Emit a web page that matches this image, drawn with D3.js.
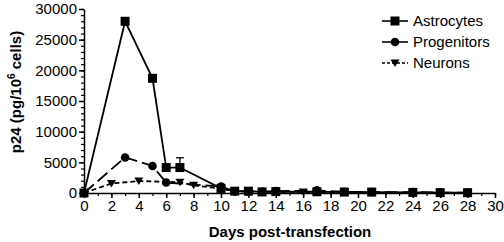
<!DOCTYPE html>
<html>
<head>
<meta charset="utf-8">
<script src="https://cdn.jsdelivr.net/npm/d3@7"></script>
<style>
  body { margin: 0; background: #fff; }
  text { font-family: "Liberation Sans", Arial, sans-serif; }
</style>
</head>
<body>
<div class="chart"></div>
<script>
// Days for each series
const astroDays = [0, 3, 5, 6, 7, 10, 11, 12, 13, 14, 17, 19, 21, 24, 26, 28];
const astroVals = [0, 28000, 18700, 4150, 4150, 750, 300, 300, 180, 230, 200, 150, 150, 100, 60, 50];
const astroErr = [{ day: 7, top: 5750 }];

const progDays = [0, 3, 5, 6, 10, 11, 12, 13, 14, 17, 19, 21, 24, 26, 28];
const progVals = [0, 5800, 4400, 1700, 1050, 280, 230, 180, 300, 420, 200, 150, 150, 60, 50];

const neurDays = [0, 2, 4, 7, 8, 10, 11, 16, 17, 19, 21];
const neurVals = [0, 1550, 1950, 1750, 1250, 700, 300, 150, 150, 150, 100];

const xTicks = d3.range(0, 31, 2);
const yTicks = [0, 5000, 10000, 15000, 20000, 25000, 30000];

const series = [
  { name: "Astrocytes", days: astroDays, vals: astroVals, marker: "square", dash: null, legendDash: null },
  { name: "Progenitors", days: progDays, vals: progVals, marker: "circle", dash: "13,5", legendDash: null },
  { name: "Neurons", days: neurDays, vals: neurVals, marker: "triangle", dash: "5,3", legendDash: "3,2" }
];

const width = 504, height = 242;
const svg = d3.select(".chart").append("svg")
  .attr("width", width)
  .attr("height", height);

// scales
const x = d3.scaleLinear().domain([0, 30]).range([84, 495]);
const y = d3.scaleLinear().domain([0, 30000]).range([193, 9]);

// y axis minor ticks
svg.append("g")
  .attr("transform", "translate(84,0)")
  .call(d3.axisLeft(y).tickValues(d3.range(0, 30001, 1000)).tickSize(3).tickFormat(""))
  .call(g => g.select(".domain").remove())
  .selectAll("line").attr("stroke-width", 1.2);
const yAx = svg.append("g")
  .attr("transform", "translate(84,0)")
  .call(d3.axisLeft(y).tickValues(yTicks).tickSize(5).tickPadding(2).tickSizeOuter(0).tickFormat(d3.format("d")));
yAx.select(".domain").attr("stroke-width", 1.5);
yAx.selectAll("line").attr("stroke-width", 1.5);
yAx.selectAll("text").attr("font-size", 15).attr("fill", "#000");

// x axis minor ticks
svg.append("g")
  .attr("transform", "translate(0,193)")
  .call(d3.axisBottom(x).tickValues(d3.range(0, 31, 1)).tickSize(3).tickFormat(""))
  .call(g => g.select(".domain").remove())
  .selectAll("line").attr("stroke-width", 1.2);
const xAx = svg.append("g")
  .attr("transform", "translate(0,193)")
  .call(d3.axisBottom(x).tickValues(xTicks).tickSize(5).tickPadding(2).tickSizeOuter(0));
xAx.select(".domain").attr("stroke-width", 1.5);
xAx.selectAll("line").attr("stroke-width", 1.5);
xAx.selectAll("text").attr("font-size", 15).attr("fill", "#000");

// axis titles
svg.append("text")
  .attr("x", 290).attr("y", 237)
  .attr("text-anchor", "middle")
  .attr("font-size", 15).attr("font-weight", "bold")
  .text("Days post-transfection");

const yTitle = svg.append("text")
  .attr("transform", "translate(21,92) rotate(-90)")
  .attr("text-anchor", "middle")
  .attr("font-size", 15).attr("font-weight", "bold");
yTitle.append("tspan").text("p24 (pg/10");
yTitle.append("tspan").attr("dy", -6).attr("font-size", 10).text("6");
yTitle.append("tspan").attr("dy", 6).text(" cells)");

// marker drawing
function drawMarker(g, type, cx, cy) {
  if (type === "square") {
    g.append("rect").attr("x", cx - 4.5).attr("y", cy - 4.5).attr("width", 9).attr("height", 9).attr("fill", "#000");
  } else if (type === "circle") {
    g.append("circle").attr("cx", cx).attr("cy", cy).attr("r", 4.3).attr("fill", "#000");
  } else {
    g.append("path").attr("d", `M${cx - 4.5},${cy - 3.5}L${cx + 4.5},${cy - 3.5}L${cx},${cy + 4}Z`).attr("fill", "#000");
  }
}

const line = d3.line().x(d => x(d[0])).y(d => y(d[1]));

// error bar
astroErr.forEach(e => {
  const i = astroDays.indexOf(e.day);
  svg.append("line")
    .attr("x1", x(e.day)).attr("x2", x(e.day))
    .attr("y1", y(astroVals[i])).attr("y2", y(e.top))
    .attr("stroke", "#000").attr("stroke-width", 1.3);
  svg.append("line")
    .attr("x1", x(e.day) - 4).attr("x2", x(e.day) + 4)
    .attr("y1", y(e.top)).attr("y2", y(e.top))
    .attr("stroke", "#000").attr("stroke-width", 1.3);
});

// draw series (neurons first so astrocytes sit on top)
series.slice().reverse().forEach(s => {
  const pts = s.days.map((d, i) => [d, s.vals[i]]);
  const g = svg.append("g");
  g.append("path")
    .attr("d", line(pts))
    .attr("fill", "none")
    .attr("stroke", "#000")
    .attr("stroke-width", 1.8)
    .attr("stroke-dasharray", s.dash);
  pts.forEach(p => drawMarker(g, s.marker, x(p[0]), y(p[1])));
});

// legend
const legend = svg.append("g");
series.forEach((s, i) => {
  const ly = 21 + i * 21;
  legend.append("line")
    .attr("x1", 382).attr("x2", 408)
    .attr("y1", ly).attr("y2", ly)
    .attr("stroke", "#000").attr("stroke-width", 1.6)
    .attr("stroke-dasharray", s.legendDash);
  drawMarker(legend, s.marker, 395, ly);
  legend.append("text")
    .attr("x", 413).attr("y", ly + 5)
    .attr("font-size", 15)
    .text(s.name);
});
</script>
</body>
</html>
